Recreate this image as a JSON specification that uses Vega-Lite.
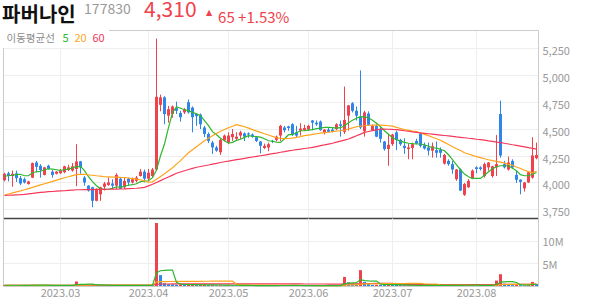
{
"$schema": "https://vega.github.io/schema/vega-lite/v6.json",
"padding": {"left": 2, "top": 0, "right": 0, "bottom": 0},
"background": "white",
"config": {
  "font": "Noto Sans CJK KR",
  "view": {"stroke": null},
  "concat": {"spacing": 0},
  "axis": {"title": null, "ticks": false, "labelColor": "#999999", "labelFontSize": 11, "labelFont": "Noto Sans CJK KR", "gridColor": "#eeeeee", "domainColor": "#cccccc"},
  "title": {"anchor": "start", "baseline": "top", "offset": 0, "font": "Noto Sans CJK KR", "fontWeight": "normal"}
},
"data": {"values": [
{"d":"2023-02-09","o":4020,"h":4090,"l":4010,"c":4080,"v":180000,"m5":4058,"m20":3883,"m60":3879,"v5":170000,"v20":155000,"v60":165000},
{"d":"2023-02-10","o":4085,"h":4100,"l":4010,"c":4060,"v":150000,"m5":4062,"m20":3893,"m60":3881,"v5":165000,"v20":155000,"v60":165000},
{"d":"2023-02-13","o":4060,"h":4110,"l":3960,"c":4080,"v":200000,"m5":4067,"m20":3903,"m60":3883,"v5":170000,"v20":155000,"v60":165000},
{"d":"2023-02-14","o":4085,"h":4110,"l":4005,"c":4040,"v":160000,"m5":4072,"m20":3913,"m60":3885,"v5":170000,"v20":155000,"v60":165000},
{"d":"2023-02-15","o":4040,"h":4060,"l":3975,"c":3990,"v":140000,"m5":4076,"m20":3922,"m60":3887,"v5":166000,"v20":154000,"v60":165000},
{"d":"2023-02-16","o":4030,"h":4045,"l":3990,"c":4000,"v":120000,"m5":4062,"m20":3932,"m60":3890,"v5":154000,"v20":153000,"v60":165000},
{"d":"2023-02-17","o":3985,"h":4015,"l":3980,"c":4010,"v":110000,"m5":4062,"m20":3943,"m60":3894,"v5":146000,"v20":152000,"v60":165000},
{"d":"2023-02-20","o":4045,"h":4185,"l":4040,"c":4180,"v":300000,"m5":4090,"m20":3954,"m60":3898,"v5":166000,"v20":155000,"v60":165000},
{"d":"2023-02-21","o":4185,"h":4200,"l":4095,"c":4145,"v":220000,"m5":4099,"m20":3966,"m60":3903,"v5":178000,"v20":157000,"v60":165000},
{"d":"2023-02-22","o":4155,"h":4170,"l":4045,"c":4115,"v":160000,"m5":4104,"m20":3977,"m60":3907,"v5":182000,"v20":157000,"v60":165000},
{"d":"2023-02-23","o":4070,"h":4145,"l":4065,"c":4140,"v":150000,"m5":4118,"m20":3988,"m60":3911,"v5":188000,"v20":158000,"v60":165000},
{"d":"2023-02-24","o":4155,"h":4165,"l":4120,"c":4125,"v":120000,"m5":4127,"m20":3999,"m60":3914,"v5":190000,"v20":158000,"v60":165000},
{"d":"2023-02-27","o":4100,"h":4115,"l":4045,"c":4070,"v":130000,"m5":4123,"m20":4010,"m60":3916,"v5":156000,"v20":157000,"v60":165000},
{"d":"2023-02-28","o":4080,"h":4105,"l":4075,"c":4100,"v":110000,"m5":4118,"m20":4022,"m60":3919,"v5":134000,"v20":155000,"v60":165000},
{"d":"2023-03-02","o":4085,"h":4125,"l":4080,"c":4110,"v":120000,"m5":4113,"m20":4033,"m60":3921,"v5":126000,"v20":154000,"v60":165000},
{"d":"2023-03-03","o":4095,"h":4155,"l":4085,"c":4150,"v":150000,"m5":4118,"m20":4044,"m60":3923,"v5":126000,"v20":153000,"v60":165000},
{"d":"2023-03-06","o":4115,"h":4165,"l":4105,"c":4140,"v":130000,"m5":4123,"m20":4053,"m60":3926,"v5":128000,"v20":152000,"v60":165000},
{"d":"2023-03-07","o":4110,"h":4180,"l":4100,"c":4150,"v":160000,"m5":4137,"m20":4063,"m60":3929,"v5":134000,"v20":152000,"v60":165000},
{"d":"2023-03-08","o":4125,"h":4355,"l":3965,"c":4195,"v":1000000,"m5":4146,"m20":4072,"m60":3932,"v5":312000,"v20":192000,"v60":180000},
{"d":"2023-03-09","o":4195,"h":4200,"l":4080,"c":4140,"v":350000,"m5":4150,"m20":4074,"m60":3932,"v5":358000,"v20":202000,"v60":180000},
{"d":"2023-03-10","o":4045,"h":4060,"l":3970,"c":4000,"v":250000,"m5":4109,"m20":4076,"m60":3933,"v5":378000,"v20":207000,"v60":180000},
{"d":"2023-03-13","o":3970,"h":3975,"l":3915,"c":3925,"v":220000,"m5":4053,"m20":4071,"m60":3933,"v5":396000,"v20":210000,"v60":180000},
{"d":"2023-03-14","o":3955,"h":3960,"l":3770,"c":3830,"v":300000,"m5":4007,"m20":4067,"m60":3934,"v5":424000,"v20":215000,"v60":180000},
{"d":"2023-03-15","o":3830,"h":3945,"l":3825,"c":3940,"v":200000,"m5":3969,"m20":4062,"m60":3935,"v5":264000,"v20":217000,"v60":180000},
{"d":"2023-03-16","o":3890,"h":3960,"l":3830,"c":3955,"v":180000,"m5":3941,"m20":4058,"m60":3935,"v5":230000,"v20":218000,"v60":180000},
{"d":"2023-03-17","o":3960,"h":4005,"l":3925,"c":3990,"v":150000,"m5":3937,"m20":4053,"m60":3936,"v5":210000,"v20":218000,"v60":180000},
{"d":"2023-03-20","o":3975,"h":4045,"l":3970,"c":4000,"v":130000,"m5":3937,"m20":4052,"m60":3937,"v5":192000,"v20":218000,"v60":180000},
{"d":"2023-03-21","o":3990,"h":4030,"l":3940,"c":3970,"v":120000,"m5":3946,"m20":4050,"m60":3938,"v5":156000,"v20":218000,"v60":180000},
{"d":"2023-03-22","o":3970,"h":4085,"l":3940,"c":4070,"v":200000,"m5":3960,"m20":4049,"m60":3938,"v5":156000,"v20":220000,"v60":180000},
{"d":"2023-03-23","o":4035,"h":4045,"l":3940,"c":3940,"v":150000,"m5":3955,"m20":4047,"m60":3939,"v5":150000,"v20":220000,"v60":180000},
{"d":"2023-03-24","o":3955,"h":4045,"l":3940,"c":4015,"v":140000,"m5":3965,"m20":4046,"m60":3940,"v5":148000,"v20":220000,"v60":180000},
{"d":"2023-03-27","o":4035,"h":4045,"l":3970,"c":4000,"v":110000,"m5":3974,"m20":4041,"m60":3942,"v5":144000,"v20":219000,"v60":180000},
{"d":"2023-03-28","o":4000,"h":4045,"l":3990,"c":4030,"v":100000,"m5":3979,"m20":4036,"m60":3944,"v5":140000,"v20":218000,"v60":180000},
{"d":"2023-03-29","o":4015,"h":4060,"l":4000,"c":4045,"v":110000,"m5":3988,"m20":4030,"m60":3946,"v5":122000,"v20":217000,"v60":180000},
{"d":"2023-03-30","o":4060,"h":4125,"l":4055,"c":4100,"v":160000,"m5":4007,"m20":4025,"m60":3950,"v5":124000,"v20":218000,"v60":180000},
{"d":"2023-03-31","o":4100,"h":4120,"l":4000,"c":4035,"v":140000,"m5":4011,"m20":4014,"m60":3955,"v5":124000,"v20":218000,"v60":180000},
{"d":"2023-04-03","o":4035,"h":4125,"l":4010,"c":4090,"v":200000,"m5":4016,"m20":4002,"m60":3968,"v5":142000,"v20":219000,"v60":180000},
{"d":"2023-04-04","o":4060,"h":4135,"l":4045,"c":4120,"v":180000,"m5":4044,"m20":4006,"m60":3983,"v5":158000,"v20":220000,"v60":180000},
{"d":"2023-04-05","o":4120,"h":5335,"l":4110,"c":4795,"v":13900000,"m5":4115,"m20":4030,"m60":4000,"v5":2916000,"v20":865000,"v60":390000},
{"d":"2023-04-06","o":4720,"h":4815,"l":4660,"c":4790,"v":2400000,"m5":4248,"m20":4055,"m60":4017,"v5":3364000,"v20":967000,"v60":430000},
{"d":"2023-04-07","o":4790,"h":4800,"l":4540,"c":4635,"v":600000,"m5":4357,"m20":4081,"m60":4034,"v5":3456000,"v20":985000,"v60":440000},
{"d":"2023-04-10","o":4620,"h":4710,"l":4555,"c":4680,"v":400000,"m5":4508,"m20":4109,"m60":4051,"v5":3496000,"v20":994000,"v60":445000},
{"d":"2023-04-11","o":4635,"h":4715,"l":4600,"c":4705,"v":350000,"m5":4648,"m20":4137,"m60":4068,"v5":3530000,"v20":996000,"v60":450000},
{"d":"2023-04-12","o":4690,"h":4750,"l":4635,"c":4665,"v":300000,"m5":4703,"m20":4170,"m60":4085,"v5":810000,"v20":1001000,"v60":455000},
{"d":"2023-04-13","o":4645,"h":4665,"l":4565,"c":4605,"v":350000,"m5":4689,"m20":4202,"m60":4097,"v5":400000,"v20":1010000,"v60":460000},
{"d":"2023-04-14","o":4650,"h":4690,"l":4635,"c":4680,"v":250000,"m5":4675,"m20":4239,"m60":4109,"v5":330000,"v20":1015000,"v60":462000},
{"d":"2023-04-17","o":4745,"h":4770,"l":4640,"c":4650,"v":300000,"m5":4666,"m20":4276,"m60":4120,"v5":310000,"v20":1023000,"v60":465000},
{"d":"2023-04-18","o":4695,"h":4705,"l":4465,"c":4605,"v":350000,"m5":4650,"m20":4304,"m60":4130,"v5":310000,"v20":1035000,"v60":468000},
{"d":"2023-04-19","o":4635,"h":4645,"l":4525,"c":4615,"v":200000,"m5":4638,"m20":4332,"m60":4141,"v5":290000,"v20":1035000,"v60":470000},
{"d":"2023-04-20","o":4630,"h":4640,"l":4495,"c":4540,"v":250000,"m5":4620,"m20":4360,"m60":4148,"v5":270000,"v20":1040000,"v60":472000},
{"d":"2023-04-21","o":4510,"h":4525,"l":4420,"c":4450,"v":300000,"m5":4573,"m20":4387,"m60":4155,"v5":280000,"v20":1048000,"v60":475000},
{"d":"2023-04-24","o":4450,"h":4465,"l":4365,"c":4385,"v":200000,"m5":4527,"m20":4410,"m60":4162,"v5":260000,"v20":1052000,"v60":476000},
{"d":"2023-04-25","o":4370,"h":4385,"l":4265,"c":4325,"v":250000,"m5":4471,"m20":4434,"m60":4170,"v5":240000,"v20":1060000,"v60":478000},
{"d":"2023-04-26","o":4325,"h":4340,"l":4285,"c":4295,"v":150000,"m5":4443,"m20":4455,"m60":4177,"v5":230000,"v20":1062000,"v60":478000},
{"d":"2023-04-27","o":4280,"h":4405,"l":4255,"c":4395,"v":200000,"m5":4411,"m20":4476,"m60":4185,"v5":220000,"v20":1064000,"v60":479000},
{"d":"2023-04-28","o":4390,"h":4445,"l":4380,"c":4435,"v":150000,"m5":4387,"m20":4492,"m60":4192,"v5":190000,"v20":1064000,"v60":479000},
{"d":"2023-05-02","o":4370,"h":4465,"l":4355,"c":4435,"v":200000,"m5":4364,"m20":4508,"m60":4198,"v5":190000,"v20":1064000,"v60":480000},
{"d":"2023-05-03","o":4420,"h":4495,"l":4385,"c":4450,"v":150000,"m5":4372,"m20":4522,"m60":4205,"v5":170000,"v20":1063000,"v60":480000},
{"d":"2023-05-04","o":4405,"h":4465,"l":4385,"c":4425,"v":130000,"m5":4390,"m20":4536,"m60":4211,"v5":166000,"v20":374000,"v60":478000},
{"d":"2023-05-08","o":4435,"h":4480,"l":4405,"c":4465,"v":120000,"m5":4401,"m20":4527,"m60":4217,"v5":150000,"v20":260000,"v60":476000},
{"d":"2023-05-09","o":4455,"h":4465,"l":4385,"c":4425,"v":110000,"m5":4418,"m20":4517,"m60":4223,"v5":142000,"v20":236000,"v60":474000},
{"d":"2023-05-10","o":4455,"h":4465,"l":4415,"c":4445,"v":100000,"m5":4434,"m20":4504,"m60":4230,"v5":122000,"v20":220000,"v60":472000},
{"d":"2023-05-11","o":4445,"h":4455,"l":4415,"c":4425,"v":90000,"m5":4429,"m20":4490,"m60":4236,"v5":110000,"v20":208000,"v60":470000},
{"d":"2023-05-12","o":4420,"h":4430,"l":4375,"c":4385,"v":100000,"m5":4426,"m20":4477,"m60":4242,"v5":104000,"v20":198000,"v60":468000},
{"d":"2023-05-15","o":4380,"h":4385,"l":4270,"c":4340,"v":120000,"m5":4420,"m20":4465,"m60":4248,"v5":104000,"v20":186000,"v60":466000},
{"d":"2023-05-16","o":4320,"h":4360,"l":4310,"c":4340,"v":90000,"m5":4406,"m20":4452,"m60":4254,"v5":100000,"v20":178000,"v60":464000},
{"d":"2023-05-17","o":4325,"h":4370,"l":4290,"c":4355,"v":100000,"m5":4387,"m20":4440,"m60":4261,"v5":100000,"v20":168000,"v60":462000},
{"d":"2023-05-18","o":4385,"h":4395,"l":4365,"c":4380,"v":80000,"m5":4383,"m20":4427,"m60":4267,"v5":98000,"v20":155000,"v60":460000},
{"d":"2023-05-19","o":4395,"h":4435,"l":4380,"c":4425,"v":90000,"m5":4373,"m20":4415,"m60":4273,"v5":96000,"v20":149000,"v60":458000},
{"d":"2023-05-22","o":4435,"h":4535,"l":4385,"c":4525,"v":180000,"m5":4372,"m20":4410,"m60":4280,"v5":108000,"v20":146000,"v60":458000},
{"d":"2023-05-23","o":4510,"h":4525,"l":4465,"c":4485,"v":120000,"m5":4406,"m20":4406,"m60":4286,"v5":114000,"v20":137000,"v60":456000},
{"d":"2023-05-24","o":4520,"h":4525,"l":4480,"c":4505,"v":90000,"m5":4443,"m20":4408,"m60":4293,"v5":112000,"v20":131000,"v60":454000},
{"d":"2023-05-25","o":4540,"h":4550,"l":4430,"c":4445,"v":130000,"m5":4443,"m20":4411,"m60":4299,"v5":122000,"v20":125000,"v60":452000},
{"d":"2023-05-26","o":4465,"h":4525,"l":4420,"c":4435,"v":100000,"m5":4462,"m20":4419,"m60":4304,"v5":124000,"v20":123000,"v60":450000},
{"d":"2023-05-30","o":4480,"h":4550,"l":4435,"c":4500,"v":90000,"m5":4480,"m20":4426,"m60":4309,"v5":106000,"v20":117000,"v60":448000},
{"d":"2023-05-31","o":4485,"h":4535,"l":4480,"c":4505,"v":80000,"m5":4480,"m20":4434,"m60":4315,"v5":98000,"v20":114000,"v60":446000},
{"d":"2023-06-01","o":4490,"h":4535,"l":4480,"c":4525,"v":90000,"m5":4485,"m20":4440,"m60":4320,"v5":98000,"v20":108000,"v60":444000},
{"d":"2023-06-02","o":4575,"h":4580,"l":4485,"c":4555,"v":110000,"m5":4490,"m20":4446,"m60":4325,"v5":94000,"v20":106000,"v60":443000},
{"d":"2023-06-05","o":4555,"h":4575,"l":4525,"c":4540,"v":80000,"m5":4499,"m20":4452,"m60":4333,"v5":90000,"v20":104000,"v60":441000},
{"d":"2023-06-07","o":4565,"h":4575,"l":4480,"c":4485,"v":100000,"m5":4505,"m20":4457,"m60":4341,"v5":92000,"v20":103000,"v60":439000},
{"d":"2023-06-08","o":4465,"h":4495,"l":4445,"c":4490,"v":80000,"m5":4511,"m20":4462,"m60":4348,"v5":92000,"v20":101000,"v60":437000},
{"d":"2023-06-09","o":4490,"h":4510,"l":4465,"c":4470,"v":70000,"m5":4511,"m20":4466,"m60":4356,"v5":88000,"v20":100000,"v60":435000},
{"d":"2023-06-12","o":4490,"h":4510,"l":4465,"c":4470,"v":70000,"m5":4508,"m20":4471,"m60":4364,"v5":80000,"v20":99000,"v60":433000},
{"d":"2023-06-13","o":4495,"h":4550,"l":4485,"c":4540,"v":100000,"m5":4505,"m20":4476,"m60":4374,"v5":84000,"v20":99000,"v60":432000},
{"d":"2023-06-14","o":4540,"h":4575,"l":4425,"c":4525,"v":120000,"m5":4508,"m20":4480,"m60":4384,"v5":88000,"v20":99000,"v60":431000},
{"d":"2023-06-15","o":4470,"h":4890,"l":4450,"c":4580,"v":2000000,"m5":4527,"m20":4485,"m60":4393,"v5":472000,"v20":194000,"v60":462000},
{"d":"2023-06-16","o":4620,"h":4720,"l":4480,"c":4715,"v":800000,"m5":4555,"m20":4496,"m60":4403,"v5":618000,"v20":229000,"v60":473000},
{"d":"2023-06-19","o":4735,"h":4745,"l":4650,"c":4665,"v":450000,"m5":4578,"m20":4506,"m60":4418,"v5":694000,"v20":248000,"v60":478000},
{"d":"2023-06-20","o":4665,"h":4705,"l":4575,"c":4620,"v":350000,"m5":4596,"m20":4517,"m60":4434,"v5":744000,"v20":261000,"v60":482000},
{"d":"2023-06-21","o":4610,"h":5040,"l":4495,"c":4510,"v":3500000,"m5":4610,"m20":4522,"m60":4449,"v5":1420000,"v20":427000,"v60":538000},
{"d":"2023-06-22","o":4475,"h":4665,"l":4425,"c":4650,"v":900000,"m5":4608,"m20":4526,"m60":4465,"v5":1200000,"v20":466000,"v60":550000},
{"d":"2023-06-23","o":4640,"h":4660,"l":4525,"c":4535,"v":450000,"m5":4601,"m20":4531,"m60":4473,"v5":1130000,"v20":484000,"v60":555000},
{"d":"2023-06-26","o":4485,"h":4535,"l":4480,"c":4525,"v":250000,"m5":4578,"m20":4532,"m60":4481,"v5":1090000,"v20":490000,"v60":557000},
{"d":"2023-06-27","o":4525,"h":4540,"l":4420,"c":4425,"v":300000,"m5":4550,"m20":4532,"m60":4488,"v5":1080000,"v20":500000,"v60":560000},
{"d":"2023-06-28","o":4495,"h":4510,"l":4370,"c":4405,"v":280000,"m5":4517,"m20":4533,"m60":4496,"v5":436000,"v20":509000,"v60":562000},
{"d":"2023-06-29","o":4380,"h":4385,"l":4295,"c":4310,"v":250000,"m5":4480,"m20":4530,"m60":4495,"v5":306000,"v20":518000,"v60":563000},
{"d":"2023-06-30","o":4310,"h":4450,"l":4155,"c":4350,"v":350000,"m5":4448,"m20":4526,"m60":4494,"v5":286000,"v20":531000,"v60":566000},
{"d":"2023-07-03","o":4355,"h":4450,"l":4340,"c":4445,"v":300000,"m5":4415,"m20":4522,"m60":4492,"v5":296000,"v20":540000,"v60":568000},
{"d":"2023-07-04","o":4465,"h":4480,"l":4300,"c":4395,"v":250000,"m5":4397,"m20":4511,"m60":4491,"v5":286000,"v20":549000,"v60":340000},
{"d":"2023-07-05","o":4395,"h":4405,"l":4340,"c":4355,"v":180000,"m5":4383,"m20":4501,"m60":4486,"v5":266000,"v20":553000,"v60":305000},
{"d":"2023-07-06","o":4340,"h":4410,"l":4265,"c":4320,"v":160000,"m5":4372,"m20":4490,"m60":4480,"v5":248000,"v20":557000,"v60":300000},
{"d":"2023-07-07","o":4310,"h":4360,"l":4215,"c":4325,"v":170000,"m5":4364,"m20":4484,"m60":4475,"v5":212000,"v20":562000,"v60":300000},
{"d":"2023-07-10","o":4320,"h":4370,"l":4215,"c":4355,"v":150000,"m5":4360,"m20":4477,"m60":4469,"v5":182000,"v20":566000,"v60":299000},
{"d":"2023-07-11","o":4385,"h":4405,"l":4355,"c":4360,"v":110000,"m5":4357,"m20":4471,"m60":4465,"v5":154000,"v20":566000,"v60":298000},
{"d":"2023-07-12","o":4455,"h":4465,"l":4325,"c":4340,"v":200000,"m5":4357,"m20":4459,"m60":4460,"v5":158000,"v20":570000,"v60":298000},
{"d":"2023-07-13","o":4345,"h":4370,"l":4305,"c":4315,"v":150000,"m5":4350,"m20":4446,"m60":4456,"v5":156000,"v20":478000,"v60":297000},
{"d":"2023-07-14","o":4325,"h":4370,"l":4250,"c":4295,"v":130000,"m5":4336,"m20":4434,"m60":4452,"v5":148000,"v20":444000,"v60":296000},
{"d":"2023-07-17","o":4295,"h":4370,"l":4230,"c":4335,"v":140000,"m5":4322,"m20":4420,"m60":4448,"v5":146000,"v20":429000,"v60":295000},
{"d":"2023-07-18","o":4300,"h":4380,"l":4230,"c":4275,"v":130000,"m5":4318,"m20":4406,"m60":4444,"v5":150000,"v20":418000,"v60":294000},
{"d":"2023-07-19","o":4305,"h":4325,"l":4230,"c":4275,"v":110000,"m5":4308,"m20":4392,"m60":4440,"v5":132000,"v20":248000,"v60":293000},
{"d":"2023-07-20","o":4175,"h":4265,"l":4165,"c":4255,"v":160000,"m5":4294,"m20":4372,"m60":4436,"v5":134000,"v20":211000,"v60":293000},
{"d":"2023-07-21","o":4200,"h":4215,"l":4155,"c":4170,"v":110000,"m5":4257,"m20":4352,"m60":4432,"v5":130000,"v20":194000,"v60":292000},
{"d":"2023-07-24","o":4170,"h":4200,"l":4080,"c":4120,"v":130000,"m5":4211,"m20":4332,"m60":4428,"v5":128000,"v20":188000,"v60":291000},
{"d":"2023-07-25","o":4030,"h":4125,"l":4015,"c":4120,"v":120000,"m5":4164,"m20":4312,"m60":4423,"v5":126000,"v20":179000,"v60":290000},
{"d":"2023-07-26","o":4120,"h":4130,"l":3920,"c":3925,"v":250000,"m5":4118,"m20":4296,"m60":4419,"v5":154000,"v20":178000,"v60":292000},
{"d":"2023-07-27","o":3885,"h":3995,"l":3875,"c":3985,"v":200000,"m5":4078,"m20":4276,"m60":4415,"v5":162000,"v20":175000,"v60":293000},
{"d":"2023-07-28","o":3955,"h":4030,"l":3950,"c":4015,"v":150000,"m5":4053,"m20":4264,"m60":4410,"v5":170000,"v20":165000,"v60":293000},
{"d":"2023-07-31","o":4035,"h":4120,"l":4030,"c":4110,"v":160000,"m5":4037,"m20":4251,"m60":4406,"v5":176000,"v20":158000,"v60":294000},
{"d":"2023-08-01","o":4140,"h":4150,"l":4085,"c":4125,"v":120000,"m5":4037,"m20":4239,"m60":4401,"v5":176000,"v20":152000,"v60":294000},
{"d":"2023-08-02","o":4140,"h":4150,"l":4110,"c":4125,"v":90000,"m5":4037,"m20":4230,"m60":4397,"v5":144000,"v20":147000,"v60":293000},
{"d":"2023-08-03","o":4060,"h":4185,"l":4045,"c":4170,"v":150000,"m5":4067,"m20":4220,"m60":4392,"v5":134000,"v20":147000,"v60":294000},
{"d":"2023-08-04","o":4140,"h":4190,"l":4110,"c":4185,"v":120000,"m5":4099,"m20":4211,"m60":4386,"v5":128000,"v20":144000,"v60":294000},
{"d":"2023-08-07","o":4060,"h":4155,"l":4045,"c":4150,"v":130000,"m5":4127,"m20":4203,"m60":4381,"v5":122000,"v20":143000,"v60":294000},
{"d":"2023-08-08","o":4140,"h":4440,"l":4060,"c":4170,"v":1200000,"m5":4146,"m20":4196,"m60":4375,"v5":338000,"v20":198000,"v60":311000},
{"d":"2023-08-09","o":4635,"h":4760,"l":4230,"c":4250,"v":2600000,"m5":4155,"m20":4188,"m60":4370,"v5":840000,"v20":318000,"v60":352000},
{"d":"2023-08-10","o":4170,"h":4200,"l":4130,"c":4140,"v":500000,"m5":4155,"m20":4179,"m60":4364,"v5":910000,"v20":335000,"v60":358000},
{"d":"2023-08-11","o":4120,"h":4240,"l":4110,"c":4185,"v":300000,"m5":4155,"m20":4169,"m60":4357,"v5":946000,"v20":344000,"v60":361000},
{"d":"2023-08-14","o":4200,"h":4215,"l":4125,"c":4140,"v":200000,"m5":4132,"m20":4160,"m60":4350,"v5":960000,"v20":347000,"v60":362000},
{"d":"2023-08-16","o":4070,"h":4110,"l":3995,"c":4025,"v":250000,"m5":4109,"m20":4144,"m60":4344,"v5":770000,"v20":353000,"v60":364000},
{"d":"2023-08-17","o":4025,"h":4030,"l":3890,"c":4005,"v":180000,"m5":4072,"m20":4129,"m60":4337,"v5":286000,"v20":356000,"v60":365000},
{"d":"2023-08-18","o":3945,"h":4005,"l":3915,"c":4000,"v":150000,"m5":4062,"m20":4113,"m60":4330,"v5":216000,"v20":356000,"v60":365000},
{"d":"2023-08-21","o":4000,"h":4100,"l":3995,"c":4095,"v":200000,"m5":4062,"m20":4101,"m60":4323,"v5":196000,"v20":360000,"v60":366000},
{"d":"2023-08-22","o":4045,"h":4420,"l":4035,"c":4250,"v":900000,"m5":4076,"m20":4090,"m60":4317,"v5":336000,"v20":399000,"v60":379000},
{"d":"2023-08-23","o":4225,"h":4370,"l":4215,"c":4255,"v":450000,"m5":4093,"m20":4104,"m60":4310,"v5":376000,"v20":415000,"v60":384000}
]},
"title": {"text": "파버나인", "fontSize": 20, "fontWeight": "bold", "color": "#111111", "dx": 0, "dy": 30},
"vconcat": [{
  "title": {"text": "177830", "fontSize": 14, "color": "#999999", "dx": 82, "dy": 21},
  "vconcat": [{
    "title": {"text": "4,310", "fontSize": 21, "color": "#f0424c", "dx": 142, "dy": 16},
    "vconcat": [{
      "title": {"text": "▲", "font": "DejaVu Sans", "fontSize": 8, "color": "#f0424c", "dx": 204, "dy": 10.5},
      "spacing": 0,
      "resolve": {"scale": {"color": "independent"}, "legend": {"color": "independent"}},
      "vconcat": [
        {
          "title": {"text": "65 +1.53%", "fontSize": 15, "color": "#f0424c", "dx": 216, "dy": -0.5},
          "width": 535,
          "height": 188,
          "resolve": {"axis": {"x": "independent", "y": "independent"}},
          "layer": [
            {
              "mark": {"type": "rule", "strokeWidth": 1},
              "encoding": {
                "x": {"field": "d", "type": "ordinal", "scale": {"type": "band", "paddingInner": 0.25, "paddingOuter": 0},
                      "axis": {"orient": "bottom", "labels": false, "grid": true, "domainColor": "#444444", "domainWidth": 1.3,
                               "values": ["2023-03-02", "2023-04-03", "2023-05-02", "2023-06-01", "2023-07-03", "2023-08-01"]}},
                "y": {"field": "l", "type": "quantitative", "scale": {"domain": [3670, 5415], "nice": false, "zero": false},
                      "axis": {"orient": "right", "values": [3750, 4000, 4250, 4500, 4750, 5000, 5250], "format": ",.0f", "labelPadding": 4, "labelOffset": 3.5, "grid": true}},
                "y2": {"field": "h"},
                "color": {"condition": {"test": "datum.c >= datum.o", "value": "#f0424c"}, "value": "#2f86e8"}
              }
            },
            {
              "mark": {"type": "bar"},
              "encoding": {
                "x": {"field": "d", "type": "ordinal", "scale": {"type": "band", "paddingInner": 0.25, "paddingOuter": 0},
                      "axis": {"orient": "top", "labels": false, "grid": false, "domainColor": "#cccccc"}},
                "y": {"field": "o", "type": "quantitative", "axis": {"orient": "left", "labels": false, "grid": false, "domainColor": "#cccccc"}},
                "y2": {"field": "c"},
                "color": {"condition": {"test": "datum.c >= datum.o", "value": "#f0424c"}, "value": "#2f86e8"}
              }
            },
            {
              "transform": [{"fold": ["m5", "m20", "m60"], "as": ["ma", "val"]}],
              "mark": {"type": "line", "strokeWidth": 1.2},
              "encoding": {
                "x": {"field": "d", "type": "ordinal", "scale": {"type": "band", "paddingInner": 0.25, "paddingOuter": 0}, "axis": null},
                "y": {"field": "val", "type": "quantitative", "axis": null},
                "color": {"field": "ma", "type": "nominal",
                          "scale": {"domain": ["m5", "m20", "m60"], "range": ["#2db82d", "#ffa31a", "#f5385a"]},
                          "legend": {"orient": "top-left", "offset": 0, "direction": "horizontal",
                                     "title": "이동평균선", "titleOrient": "left", "titleFontSize": 10.5, "titleFontWeight": "normal",
                                     "titleColor": "#8c8c8c", "titlePadding": 6, "titleFont": "Noto Sans CJK KR",
                                     "labelFontSize": 11, "labelFont": "Noto Sans CJK KR",
                                     "labelExpr": "datum.value == 'm5' ? '5' : datum.value == 'm20' ? '20' : '60'",
                                     "labelColor": {"expr": "datum.value == 'm5' ? '#2db82d' : datum.value == 'm20' ? '#ffa31a' : '#f5385a'"},
                                     "symbolType": "circle", "symbolSize": 0.01, "symbolOpacity": 0.001, "symbolStrokeWidth": 0.001, "labelOffset": -10, "columnPadding": 4,
                                     "fillColor": "white", "padding": 3.5}}
              }
            }
          ]
        },
        {
          "width": 535,
          "height": 68,
          "resolve": {"axis": {"x": "independent", "y": "independent"}},
          "layer": [
            {
              "transform": [{"window": [{"op": "lag", "field": "v", "as": "pv"}]}],
              "mark": {"type": "bar"},
              "encoding": {
                "x": {"field": "d", "type": "ordinal", "scale": {"type": "band", "paddingInner": 0.25, "paddingOuter": 0},
                      "axis": {"orient": "bottom", "grid": true, "labelPadding": 1.5, "labelAngle": 0, "domainColor": "#cccccc",
                               "values": ["2023-03-02", "2023-04-03", "2023-05-02", "2023-06-01", "2023-07-03", "2023-08-01"],
                               "labelExpr": "replace(substring(datum.value, 0, 7), '-', '.')"}},
                "y": {"field": "v", "type": "quantitative", "scale": {"domain": [0, 15000000], "nice": false},
                      "axis": {"orient": "right", "values": [5000000, 10000000], "format": "~s", "labelPadding": 4, "labelOffset": 2, "grid": true}},
                "color": {"condition": {"test": "datum.v >= datum.pv", "value": "#f0424c"}, "value": "#2f86e8"}
              }
            },
            {
              "mark": {"type": "line", "color": "#f5385a", "strokeWidth": 1.2},
              "encoding": {
                "x": {"field": "d", "type": "ordinal", "scale": {"type": "band", "paddingInner": 0.25, "paddingOuter": 0}, "axis": null},
                "y": {"field": "v60", "type": "quantitative", "axis": {"orient": "left", "labels": false, "grid": false, "domainColor": "#cccccc"}}
              }
            },
            {
              "mark": {"type": "line", "color": "#ffa31a", "strokeWidth": 1.2},
              "encoding": {
                "x": {"field": "d", "type": "ordinal", "scale": {"type": "band", "paddingInner": 0.25, "paddingOuter": 0}, "axis": null},
                "y": {"field": "v20", "type": "quantitative", "axis": null}
              }
            },
            {
              "mark": {"type": "line", "color": "#2db82d", "strokeWidth": 1.2},
              "encoding": {
                "x": {"field": "d", "type": "ordinal", "scale": {"type": "band", "paddingInner": 0.25, "paddingOuter": 0}, "axis": null},
                "y": {"field": "v5", "type": "quantitative", "axis": null}
              }
            }
          ]
        }
      ]
    }]
  }]
}]
}
